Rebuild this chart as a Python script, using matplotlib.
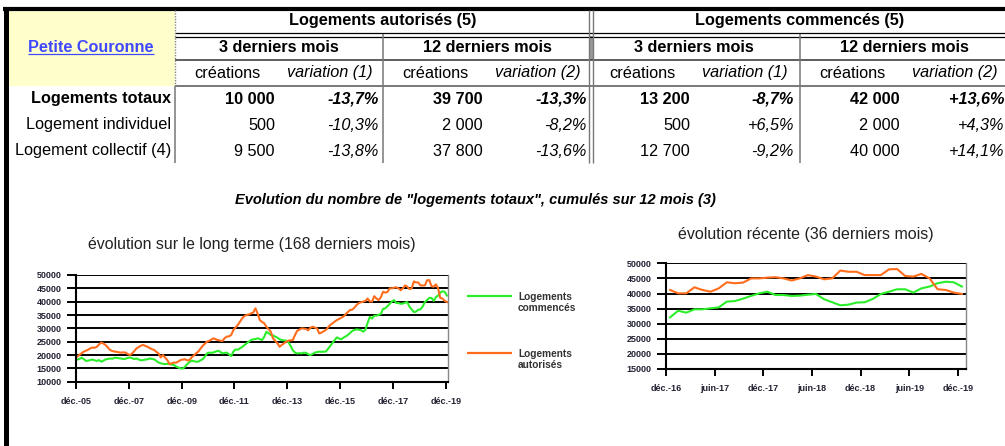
import matplotlib
matplotlib.use("Agg")
from matplotlib import pyplot as plt
from matplotlib.patches import Rectangle

plt.rcParams['font.family'] = ['Liberation Sans', 'DejaVu Sans']

# ---- table data ----
groups = ["Logements autorisés (5)", "Logements commencés (5)"]
periods = ["3 derniers mois", "12 derniers mois"]
var_labels = ["variation (1)", "variation (2)"]
row_labels = ["Logements totaux", "Logement individuel", "Logement collectif (4)"]
creations = [["10 000", "39 700", "13 200", "42 000"],
             ["500", "2 000", "500", "2 000"],
             ["9 500", "37 800", "12 700", "40 000"]]
variations = [["-13,7%", "-13,3%", "-8,7%", "+13,6%"],
              ["-10,3%", "-8,2%", "+6,5%", "+4,3%"],
              ["-13,8%", "-13,6%", "-9,2%", "+14,1%"]]

# ---- series (cumul 12 mois), monthly, déc.-05 .. nov.-16 then déc.-16 .. déc.-19 ----
aut_old = [19400, 20000, 20600, 21250, 21600, 22000, 22500, 22800, 22700, 23100,
           24000, 24700, 24300, 23700, 22800, 21900, 21500, 21300, 21200, 21000,
           20900, 21000, 20900, 20400, 20000, 20600, 21500, 22500, 23000, 23500,
           23800, 23400, 23100, 22600, 22200, 21900, 21200, 20600, 19100, 20000,
           19000, 18100, 16600, 16900, 17200, 17100, 17600, 18100, 18300, 18400,
           18000, 18100, 19100, 19800, 20600, 21250, 22300, 23400, 24200, 25000,
           25300, 25800, 26250, 25900, 25600, 25400, 25250, 26300, 26900, 27000,
           27500, 29400, 30300, 31250, 32500, 33750, 34600, 35000, 35200, 35600,
           35900, 37500, 35600, 33100, 32400, 31900, 30600, 29700, 28750, 26250,
           25300, 24400, 23100, 23800, 24400, 25000, 25400, 25500, 25600, 27500,
           29100, 29500, 30000, 29900, 29750, 29300, 30200, 30600, 30300, 30000,
           28100, 28400, 28900, 29400, 30300, 31250, 31900, 32500, 33100, 33500,
           34000, 34400, 35300, 36100, 36900, 37000, 37800, 38750, 39500, 39800,
           40000, 40300]
com_old = [18300, 18500, 19000, 18500, 17800, 17900, 18100, 18300, 18000, 17800,
           18100, 17500, 17900, 18400, 18500, 18700, 18600, 19000, 18900, 18800,
           18700, 18500, 18600, 18900, 19100, 18800, 18500, 18700, 18300, 18000,
           18100, 18300, 18400, 18700, 18500, 18400, 17800, 17200, 16900, 16700,
           16600, 16700, 16600, 16400, 16250, 15700, 15300, 15000, 14900, 15600,
           16600, 17300, 17900, 17700, 17500, 17500, 18000, 18400, 19300, 20600,
           20900, 20800, 21000, 21300, 21600, 21200, 20600, 20800, 20900, 20300,
           19600, 21300, 22100, 22000, 22500, 23000, 23700, 24400, 25000, 25600,
           25900, 26000, 26250, 26000, 25600, 26800, 28750, 28200, 27500, 27300,
           26900, 26500, 25900, 25600, 25500, 25400, 24800, 23400, 21800, 20900,
           20600, 20700, 20600, 20900, 20800, 20300, 20000, 20400, 20900, 21100,
           21250, 21200, 21250, 21300, 22300, 23400, 24500, 25600, 26600, 26200,
           25900, 26500, 27000, 27500, 28300, 29000, 29400, 29600, 29500, 29300,
           28750, 29500]
aut_recent = [41170, 40060, 40060, 42050, 41170, 40600, 41700, 43700, 43400, 43600,
              45000, 45000, 45250, 45400, 45000, 44300, 45000, 46100, 45600, 44700,
              45000, 47600, 47200, 47200, 46100, 46100, 46100, 48000, 48100, 45800,
              45600, 46500, 45000, 41400, 41170, 40300, 39850]
com_recent = [32100, 34300, 33660, 34760, 34760, 35100, 35400, 37300, 37500, 38300,
              39200, 40060, 40600, 39500, 39500, 39200, 39300, 39600, 39850, 38100,
              37100, 36100, 36300, 37000, 37100, 38200, 39850, 40600, 41400, 41400,
              40300, 41700, 42300, 43400, 43900, 43700, 42300]
aut_long = aut_old + aut_recent
com_long = com_old + com_recent

long_ticks = ["déc.-05", "déc.-07", "déc.-09", "déc.-11", "déc.-13", "déc.-15", "déc.-17", "déc.-19"]
recent_ticks = ["déc.-16", "juin-17", "déc.-17", "juin-18", "déc.-18", "juin-19", "déc.-19"]

GREEN = "#2aee2a"
ORANGE = "#ff6d1c"
W, H = 1005, 446
FS = 11.7

fig = plt.figure(figsize=(W / 100, H / 100), dpi=100)

# overlay in pixel coords for the table
ov = fig.add_axes([0, 0, 1, 1])
ov.set_xlim(0, W)
ov.set_ylim(H, 0)
ov.axis("off")

def hl(y, x0, x1, c="black", lw=1.0, ls="-"):
    ov.plot([x0, x1], [y, y], color=c, lw=lw, ls=ls, solid_capstyle="butt")

def vl(x, y0, y1, c="black", lw=1.0, ls="-"):
    ov.plot([x, x], [y0, y1], color=c, lw=lw, ls=ls, solid_capstyle="butt")

ov.add_patch(Rectangle((8, 10), 167, 76, facecolor="#ffffcc", edgecolor="none"))
ov.add_patch(Rectangle((589, 36), 4, 24, facecolor="#999999", edgecolor="none"))
hl(8.5, 3, W, lw=3.0)
vl(6, 7, H, lw=3.6)
hl(33, 175, W, lw=0.9)
hl(36.5, 175, W, lw=0.9)
hl(60, 175, W, c="#333333", lw=1.1)
hl(86, 175, W, c="#555555", lw=1.1)
vl(175, 10, 86, c="#888888", lw=1.0, ls=(0, (1, 1)))
vl(175, 86, 163, c="#777777", lw=1.1)
vl(383, 34, 163, c="#777777", lw=1.1)
vl(589, 10, 163, c="#777777", lw=1.0)
vl(593, 10, 163, c="#777777", lw=1.0)
vl(800, 34, 163, c="#777777", lw=1.1)

ov.text(91, 47, "Petite Couronne", color="#3f48ff", fontsize=FS, fontweight="bold",
        ha="center", va="center")
hl(54, 28, 154, c="#3f48ff", lw=0.9)

group_x = [383, 800]
for g, gx in zip(groups, group_x):
    ov.text(gx, 21, g, fontsize=FS, fontweight="bold", ha="center", va="center")

starts = [175, 383, 590, 800]
for k, x0 in enumerate(starts):
    ov.text(x0 + 104, 47, periods[k % 2], fontsize=FS, fontweight="bold", ha="center", va="center")
    ov.text(x0 + 52, 73, "créations", fontsize=FS, ha="center", va="center")
    ov.text(x0 + 155, 73, var_labels[k % 2], fontsize=FS, style="italic", ha="center", va="center")

row_y = [99, 125, 151]
for r, ry in enumerate(row_y):
    wt = "bold" if r == 0 else "normal"
    ov.text(171, ry, row_labels[r], fontsize=FS, fontweight=wt, ha="right", va="center")
    for k, x0 in enumerate(starts):
        ov.text(x0 + 100, ry, creations[r][k], fontsize=FS, fontweight=wt, ha="right", va="center")
        ov.text(x0 + 204, ry, variations[r][k], fontsize=FS, fontweight=wt, style="italic",
                ha="right", va="center")

ov.text(475, 200, 'Evolution du nombre de "logements totaux", cumulés sur 12 mois (3)',
        fontsize=10.5, fontweight="bold", style="italic", ha="center", va="center")
ov.text(252, 244, "évolution sur le long terme (168 derniers mois)", fontsize=11.4,
        color="#222222", ha="center", va="center")
ov.text(806, 235, "évolution récente (36 derniers mois)", fontsize=11.5,
        color="#222222", ha="center", va="center")

# legend
hl(296, 467, 512, c=GREEN, lw=1.6)
hl(353, 467, 512, c=ORANGE, lw=1.6)
ov.text(518, 292, "Logements\ncommencés", fontsize=7.3, fontweight="bold", color="#333333",
        ha="left", va="top", linespacing=1.1)
ov.text(518, 349, "Logements\nautorisés", fontsize=7.3, fontweight="bold", color="#333333",
        ha="left", va="top", linespacing=1.1)


def style_ax(ax, ymin):
    ax.set_ylim(ymin, 50000)
    ax.set_yticks(range(ymin, 50001, 5000))
    ax.grid(axis="y", color="black", lw=1.4)
    ax.set_axisbelow(True)
    for s in ["left", "bottom"]:
        ax.spines[s].set_color("black")
        ax.spines[s].set_linewidth(1.5)
    ax.spines["top"].set_visible(False)
    ax.spines["right"].set_color("#888888")
    ax.spines["right"].set_linewidth(1.0)
    ax.tick_params(axis="both", labelsize=6.5, width=1.4, color="black", direction="out")
    ax.tick_params(axis="y", length=6.5, pad=4)
    ax.tick_params(axis="x", length=5, pad=6)
    for lab in ax.get_xticklabels() + ax.get_yticklabels():
        lab.set_fontweight("bold")
        lab.set_color("#222233")
    ax.patch.set_alpha(0)


def fr(x0, y0, x1, y1):
    return [x0 / W, 1 - y1 / H, (x1 - x0) / W, (y1 - y0) / H]

ax1 = fig.add_axes(fr(76, 275, 448, 381.7))
n1 = len(aut_long)
xs1 = [i + 0.5 for i in range(n1)]
ax1.plot(xs1, com_long, color=GREEN, lw=1.5)
ax1.plot(xs1, aut_long, color=ORANGE, lw=1.5)
ax1.set_xlim(0, n1)
ax1.set_xticks(range(0, n1, 24))
ax1.set_xticklabels(long_ticks)
style_ax(ax1, 10000)

ax2 = fig.add_axes(fr(666, 263.3, 966, 369))
n2 = len(aut_recent)
xs2 = [i + 0.5 for i in range(n2)]
ax2.plot(xs2, com_recent, color=GREEN, lw=1.5)
ax2.plot(xs2, aut_recent, color=ORANGE, lw=1.5)
ax2.set_xlim(0, n2)
ax2.set_xticks(range(0, n2, 6))
ax2.set_xticklabels(recent_ticks)
style_ax(ax2, 15000)

fig.savefig("out.png", dpi=100)
